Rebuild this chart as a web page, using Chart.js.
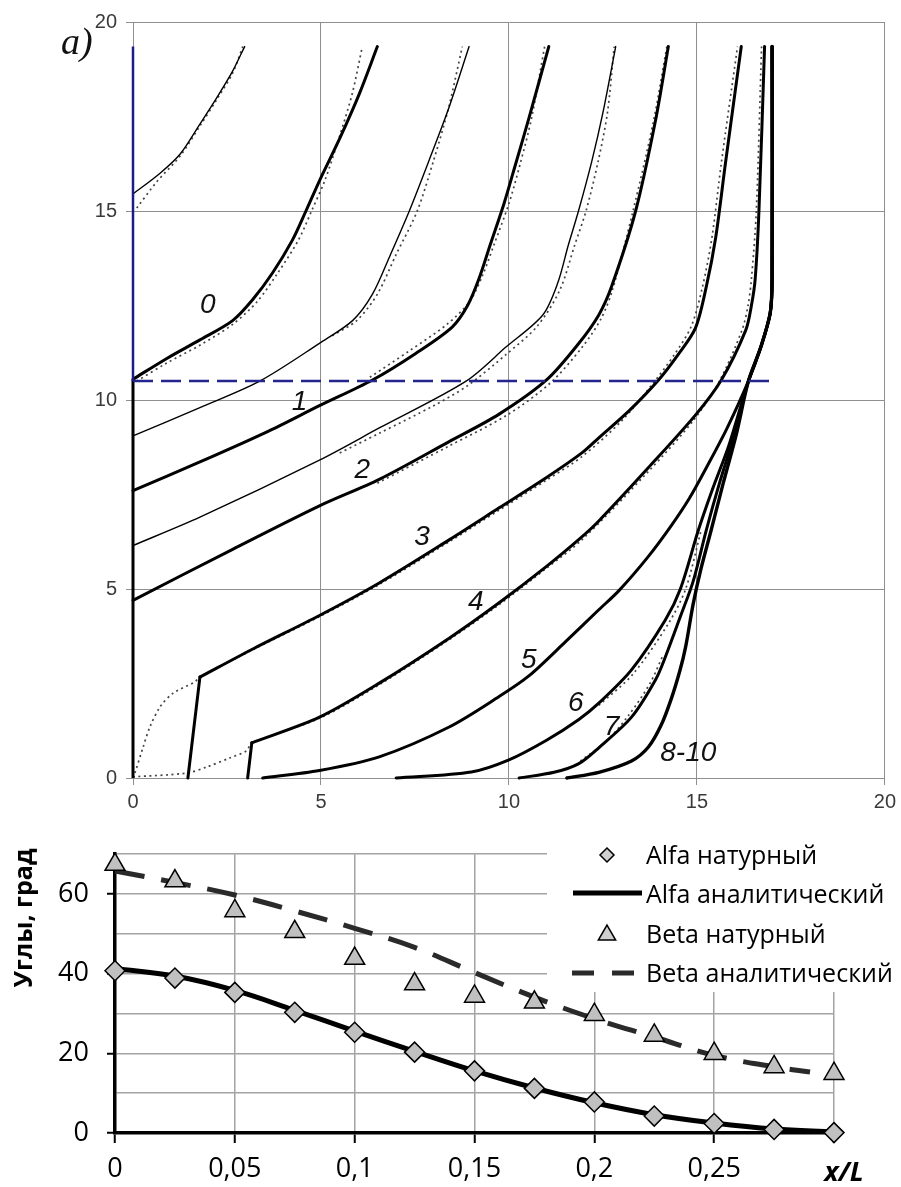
<!DOCTYPE html>
<html><head><meta charset="utf-8">
<script src="https://cdn.jsdelivr.net/npm/chart.js@4.4.0/dist/chart.umd.min.js"></script>
<style>
html,body{margin:0;padding:0;background:#fff;width:901px;height:1187px;overflow:hidden;}
#c1{position:absolute;left:0;top:0;}
#c2{position:absolute;left:0;top:820px;}
</style></head><body>
<canvas id="c1" width="901" height="820"></canvas>
<canvas id="c2" width="901" height="367"></canvas>
<script>
// ---------- top chart (a) data ----------
const topTicks = [0, 5, 10, 15, 20];
const wallBlack = [[0,0],[0,10.55]];
const wallBlue = [[0,10.5],[0,19.35]];
const levelBlue = [[0,10.5],[16.95,10.5]];

const curveAm = [[0,15.45],[0.72,16.0],[1.25,16.5],[1.78,17.3],[2.23,18.0],[2.65,18.7],[2.97,19.35]];
const dotAm = [[0.1,15.08],[0.63,15.77],[1.25,16.45],[1.78,17.25],[2.23,17.95],[2.65,18.65],[2.92,19.35]];
const curve0 = [[0,10.55],[0.9,11.1],[1.78,11.59],[2.65,12.1],[3.18,12.65],[3.71,13.36],[4.24,14.23],[4.6,15.0],[4.96,15.8],[5.49,16.9],[6.02,18.1],[6.5,19.35]];
const dot0 = [[0.1,10.5],[0.9,10.98],[1.78,11.45],[2.65,12.0],[3.3,12.6],[3.85,13.36],[4.4,14.23],[4.75,15.0],[5.1,15.8],[5.47,16.9],[5.83,18.1],[6.1,19.35]];
const curve05 = [[0,9.05],[1.78,9.8],[3.37,10.5],[4.96,11.5],[5.84,12.1],[6.37,12.8],[6.85,13.85],[7.35,15.0],[7.88,16.35],[8.41,17.75],[8.94,19.35]];
const dot05 = [[5.3,11.7],[5.95,12.1],[6.5,12.8],[7.0,13.85],[7.56,15.0],[8.0,16.35],[8.4,17.75],[8.76,19.35]];
const curve1 = [[0,7.6],[1.78,8.36],[3.55,9.15],[4.96,9.85],[6.37,10.53],[7.53,11.24],[8.49,11.93],[8.9,12.5],[9.2,13.2],[9.5,14.1],[9.87,15.2],[10.18,16.25],[10.53,17.45],[11.06,19.35]];
const dot1 = [[6.3,10.6],[7.35,11.3],[8.35,12.0],[8.95,12.6],[9.3,13.3],[9.6,14.1],[10.0,15.2],[10.3,16.25],[10.6,17.45],[10.95,19.35]];
const curve15 = [[0,6.15],[1.78,6.9],[4.96,8.41],[6.55,9.26],[8.86,10.5],[9.92,11.4],[10.9,12.25],[11.3,13.1],[11.58,14.1],[11.85,15.0],[12.2,16.3],[12.5,17.6],[12.84,19.35]];
const dot15 = [[5.5,8.6],[6.55,9.12],[8.0,9.85],[8.9,10.38],[9.92,11.2],[10.75,11.95],[11.35,12.9],[11.75,14.1],[12.05,15.0],[12.37,16.3],[12.62,17.6],[12.8,19.35]];
const curve2 = [[0,4.7],[2.65,6.05],[4.96,7.2],[6.55,7.9],[8.41,8.9],[9.73,9.62],[11.0,10.53],[11.86,11.5],[12.39,12.25],[12.73,13.0],[13.37,15.0],[13.9,17.4],[14.24,19.35]];
const dot2 = [[6.5,7.8],[8.4,8.78],[9.95,9.6],[11.1,10.45],[11.95,11.4],[12.45,12.15],[12.75,12.9],[13.3,15.0],[13.85,17.4],[14.2,19.35]];
const curve3a = [[1.46,0],[1.78,2.67]];
const curve3 = [[1.78,2.67],[3.2,3.42],[4.96,4.3],[6.55,5.16],[8.41,6.3],[9.73,7.14],[11.0,7.95],[11.94,8.6],[12.39,9.0],[13.2,9.72],[13.98,10.53],[14.5,11.2],[14.96,11.9],[15.25,13.0],[15.5,14.3],[15.76,16.27],[16.18,19.35]];
const dot3 = [[0,0],[0.05,0.13],[0.27,0.82],[0.45,1.35],[0.72,1.88],[1.06,2.24],[1.64,2.54],[1.78,2.67],[3.2,3.4],[4.96,4.27],[6.55,5.12],[8.41,6.25],[9.73,7.08],[11.0,7.88],[11.94,8.5],[13.0,9.45],[13.8,10.4],[14.4,11.2],[14.85,11.95],[15.15,13.0],[15.4,14.3],[15.65,16.27],[16.08,19.35]];
const curve4a = [[3.05,0],[3.16,0.93]];
const curve4 = [[3.16,0.93],[4.96,1.61],[6.55,2.51],[8.41,3.7],[9.73,4.63],[11.0,5.6],[11.94,6.38],[12.39,6.8],[13.7,8.2],[14.96,9.6],[15.65,10.53],[16.3,11.85],[16.45,12.5],[16.55,13.2],[16.65,15.0],[16.8,19.35]];
const dot4 = [[0,0.03],[1.43,0.13],[1.96,0.29],[2.57,0.53],[3.02,0.72],[3.16,0.93],[4.96,1.58],[6.55,2.47],[8.41,3.66],[9.73,4.58],[11.0,5.55],[11.94,6.3],[13.7,8.1],[14.9,9.45],[15.6,10.5],[16.2,11.85],[16.36,12.5],[16.45,13.2],[16.58,15.0],[16.72,19.35]];
const curve5 = [[3.45,0],[4.96,0.2],[6.55,0.56],[8.41,1.35],[9.73,2.15],[10.53,2.7],[11.5,3.6],[12.39,4.45],[12.92,4.95],[13.7,5.85],[14.3,6.65],[14.8,7.4],[15.3,8.3],[15.8,9.25],[16.37,10.5],[16.7,11.4],[16.95,12.3],[17.0,13.2],[17.0,19.35]];
const curve6 = [[7.0,0],[9.0,0.16],[10.0,0.48],[11.0,1.0],[11.86,1.55],[12.39,1.98],[13.26,2.86],[14.16,4.18],[14.56,5.0],[15.04,6.56],[15.4,7.6],[15.85,8.8],[16.37,10.5],[16.7,11.4],[16.95,12.3],[17.0,13.2],[17.0,19.35]];
const dot6 = [[12.39,1.92],[13.3,2.75],[14.25,4.1],[14.7,5.0],[15.1,6.5]];
const curve7 = [[10.27,0],[11.2,0.15],[11.86,0.38],[12.39,0.8],[13.26,1.61],[13.9,2.6],[14.16,3.2],[14.56,4.27],[14.9,5.2],[15.25,6.56],[15.6,7.8],[16.0,9.1],[16.37,10.5],[16.7,11.4],[16.95,12.3],[17.0,13.2],[17.0,19.35]];
const dot7 = [[11.9,0.45],[12.6,0.98],[13.2,1.68],[13.75,2.5],[14.1,3.25]];
const curve810 = [[11.54,0],[12.39,0.15],[13.26,0.45],[13.71,0.82],[14.05,1.4],[14.32,2.1],[14.55,2.85],[14.7,3.47],[14.9,4.6],[15.1,5.5],[15.38,6.56],[15.7,7.8],[16.05,9.1],[16.37,10.5],[16.7,11.4],[16.95,12.3],[17.0,13.2],[17.0,19.35]];

const curveLabelText = ['0','1','2','3','4','5','6','7','8-10'];
const curveLabelX = [1.99, 4.43, 6.1, 7.69, 9.12, 10.53, 11.78, 12.73, 14.77];
const curveLabelY = [12.51, 9.95, 8.15, 6.38, 4.66, 3.12, 1.98, 1.35, 0.66];

// ---------- bottom chart data ----------
const xL = [0,0.025,0.05,0.075,0.1,0.125,0.15,0.175,0.2,0.225,0.25,0.275,0.3];
const alfaNat = [40.75,38.9,35.3,30.3,25.3,20.3,15.6,11.2,7.8,4.25,2.4,0.9,0.1];
const alfaAn = [41.3,39.4,35.8,30.8,25.6,20.5,15.6,11.3,7.6,4.6,2.5,1.0,0.3];
const betaNat = [67.4,63.25,55.75,50.5,43.8,37.4,34.3,32.8,29.7,24.5,19.9,16.6,14.9];
const betaAnX = [0,0.025,0.05,0.075,0.1,0.125,0.15,0.175,0.2,0.225,0.25,0.275,0.29];
const betaAn = [65.8,62.9,59.75,55.75,51.4,46.6,40.3,34.1,28.7,24.1,19.5,16.6,15.3];
const xTickVals = [0,0.05,0.1,0.15,0.2,0.25,0.3];
const xTickText = ['0','0,05','0,1','0,15','0,2','0,25',''];
const yTickVals = [0,10,20,30,40,50,60,70];
const yTickText = ['0','','20','','40','','60',''];
const legendNames = ['Alfa натурный','Alfa аналитический','Beta натурный','Beta аналитический'];

// ---------- helpers ----------
const pts = a => a.map(p => ({x: p[0], y: p[1]}));
function ln(a, w, extra) {
  return Object.assign({data: pts(a), showLine: true, borderColor: '#000', borderWidth: w,
    pointRadius: 0, tension: 0.3, fill: false, clip: false, order: 1,
    borderCapStyle: 'round', borderJoinStyle: 'round'}, extra || {});
}
function dt(a) { return ln(a, 1.7, {borderColor: '#444', borderDash: [2, 3.5], borderCapStyle: 'butt', order: 2}); }
const TH = 3, TN = 1.4;

const topLabelsPlugin = {
  id: 'toplabels',
  afterDatasetsDraw(chart) {
    const ctx = chart.ctx, xs = chart.scales.x, ys = chart.scales.y;
    ctx.save();
    ctx.fillStyle = '#111';
    ctx.font = 'italic 28px "Liberation Sans"';
    ctx.textAlign = 'center'; ctx.textBaseline = 'middle';
    curveLabelText.forEach((t, i) => ctx.fillText(t, xs.getPixelForValue(curveLabelX[i]), ys.getPixelForValue(curveLabelY[i])));
    ctx.font = 'italic 38px "Liberation Serif"';
    ctx.textAlign = 'left'; ctx.textBaseline = 'alphabetic';
    ctx.fillText('a)', 61, 54);
    ctx.restore();
  }
};

new Chart(document.getElementById('c1'), {
  type: 'scatter',
  data: { datasets: [
    ln(wallBlue, 2.5, {borderColor: '#1c1c86', order: 0, tension: 0, borderCapStyle: 'butt'}),
    ln(levelBlue, 2.5, {borderColor: '#24248f', borderDash: [20, 8], order: 0, tension: 0, borderCapStyle: 'butt'}),
    ln(wallBlack, 3, {tension: 0, borderCapStyle: 'butt'}),
    ln(curveAm, TN), dt(dotAm),
    ln(curve0, TH), dt(dot0),
    ln(curve05, TN), dt(dot05),
    ln(curve1, TH), dt(dot1),
    ln(curve15, TN), dt(dot15),
    ln(curve2, TH), dt(dot2),
    ln(curve3a, TH, {tension: 0}), ln(curve3, TH), dt(dot3),
    ln(curve4a, TH, {tension: 0}), ln(curve4, TH), dt(dot4),
    ln(curve5, TH), ln(curve6, TH), dt(dot6), ln(curve7, TH), dt(dot7), ln(curve810, 3.4)
  ]},
  options: {
    responsive: false, animation: false, events: [],
    layout: {padding: {left: 0, right: 14, top: 22, bottom: 5}},
    plugins: {legend: {display: false}, tooltip: {enabled: false}},
    scales: {
      x: {type: 'linear', min: 0, max: 20,
        afterBuildTicks: s => { s.ticks = topTicks.map(v => ({value: v})); },
        ticks: {color: '#3a3a3a', font: {family: 'Liberation Sans', size: 20}, padding: 5, maxRotation: 0},
        grid: {color: '#8f8f8f', lineWidth: 1, tickLength: 7, tickColor: '#8f8f8f'},
        border: {color: '#8f8f8f', width: 1},
        afterFit: s => { s.height = 37; }},
      y: {type: 'linear', min: 0, max: 20,
        afterBuildTicks: s => { s.ticks = topTicks.map(v => ({value: v})); },
        ticks: {color: '#3a3a3a', font: {family: 'Liberation Sans', size: 20}, padding: 9},
        grid: {color: '#8f8f8f', lineWidth: 1, tickLength: 7, tickColor: '#8f8f8f'},
        border: {color: '#8f8f8f', width: 1},
        afterFit: s => { s.width = 133; }}
    }
  },
  plugins: [topLabelsPlugin]
});

// ---------- bottom chart ----------
function drawTri(ctx, x, y, r) {
  ctx.beginPath();
  ctx.moveTo(x, y - r);
  ctx.lineTo(x + r * Math.cos(Math.PI / 6), y + r / 2);
  ctx.lineTo(x - r * Math.cos(Math.PI / 6), y + r / 2);
  ctx.closePath(); ctx.fill(); ctx.stroke();
}
function drawDia(ctx, x, y, r) {
  ctx.beginPath();
  ctx.moveTo(x, y - r); ctx.lineTo(x + r, y); ctx.lineTo(x, y + r); ctx.lineTo(x - r, y);
  ctx.closePath(); ctx.fill(); ctx.stroke();
}
const bottomPlugin = {
  id: 'bottomdeco',
  beforeDatasetsDraw(chart) {
    const ctx = chart.ctx;
    ctx.save(); ctx.fillStyle = '#fff'; ctx.fillRect(547, 0, 354, 172); ctx.restore();
  },
  afterDraw(chart) {
    const ctx = chart.ctx;
    ctx.save();
    // legend
    const rowY = [35, 73, 113, 153];
    const baseY = [44, 83, 123, 162];
    ctx.font = '25px "Open Sans"'; ctx.fillStyle = '#000'; ctx.textAlign = 'left'; ctx.textBaseline = 'alphabetic';
    legendNames.forEach((t, i) => ctx.fillText(t, 646, baseY[i]));
    ctx.strokeStyle = '#000'; ctx.lineWidth = 1.5; ctx.fillStyle = '#d0d0d0';
    drawDia(ctx, 607, rowY[0], 7);
    drawTri(ctx, 607, rowY[2] + 2, 10);
    ctx.lineWidth = 5; ctx.strokeStyle = '#000';
    ctx.beginPath(); ctx.moveTo(573, rowY[1]); ctx.lineTo(642, rowY[1]); ctx.stroke();
    ctx.strokeStyle = '#2a2a2a'; ctx.lineCap = 'butt';
    ctx.beginPath(); ctx.moveTo(572, rowY[3]); ctx.lineTo(594, rowY[3]); ctx.moveTo(612, rowY[3]); ctx.lineTo(634, rowY[3]); ctx.stroke();
    // y title
    ctx.save();
    ctx.translate(32, 98); ctx.rotate(-Math.PI / 2);
    ctx.font = 'bold 25px "Open Sans"'; ctx.fillStyle = '#000'; ctx.textAlign = 'center'; ctx.textBaseline = 'alphabetic';
    ctx.fillText('Углы, град', 0, 0);
    ctx.restore();
    // x/L label at last tick
    const xs = chart.scales.x;
    ctx.font = 'italic bold 27px "Open Sans"'; ctx.fillStyle = '#000'; ctx.textAlign = 'center';
    ctx.fillText('x/L', xs.getPixelForValue(xTickVals[xTickVals.length - 1]) + 10, 361);
    ctx.restore();
  }
};

new Chart(document.getElementById('c2'), {
  type: 'scatter',
  data: { datasets: [
    {data: xL.map((x, i) => ({x, y: alfaNat[i]})), pointStyle: 'rectRot', pointRadius: 10,
      backgroundColor: '#c0c0c0', borderColor: '#000', borderWidth: 1.5, showLine: false, clip: false, order: 1},
    {data: xL.map((x, i) => ({x, y: betaNat[i]})), pointStyle: 'triangle', pointRadius: 11.5,
      backgroundColor: '#c0c0c0', borderColor: '#000', borderWidth: 1.5, showLine: false, clip: false, order: 1},
    {data: xL.map((x, i) => ({x, y: alfaAn[i]})), showLine: true, pointRadius: 0, borderColor: '#000',
      borderWidth: 5, tension: 0.4, clip: false, order: 3},
    {data: betaAnX.map((x, i) => ({x, y: betaAn[i]})), showLine: true, pointRadius: 0, borderColor: '#2a2a2a',
      borderWidth: 5, borderDash: [30, 17], tension: 0.4, clip: false, order: 3}
  ]},
  options: {
    responsive: false, animation: false, events: [],
    layout: {padding: {left: 0, right: 67, top: 33, bottom: 2}},
    plugins: {legend: {display: false}, tooltip: {enabled: false}},
    scales: {
      x: {type: 'linear', min: 0, max: 0.3,
        afterBuildTicks: s => { s.ticks = xTickVals.map(v => ({value: v})); },
        ticks: {color: '#000', font: {family: 'Open Sans', size: 27}, padding: 10, maxRotation: 0,
          callback: (v, i) => xTickText[i]},
        grid: {color: '#a3a3a3', lineWidth: 1.5, tickLength: 10, tickColor: '#000', tickWidth: 2},
        border: {color: '#000', width: 3.5},
        afterFit: s => { s.height = 52; }},
      y: {type: 'linear', min: 0, max: 70,
        afterBuildTicks: s => { s.ticks = yTickVals.map(v => ({value: v})); },
        ticks: {color: '#000', font: {family: 'Open Sans', size: 27}, padding: 18,
          callback: (v, i) => yTickText[i]},
        grid: {color: '#a3a3a3', lineWidth: 1.5, tickLength: 8, tickWidth: 2,
          tickColor: c => (c.tick && yTickText[c.index] !== '') ? '#000' : 'rgba(0,0,0,0)'},
        border: {color: '#000', width: 3.5},
        afterFit: s => { s.width = 115; }}
    }
  },
  plugins: [bottomPlugin]
});
</script>
</body></html>
